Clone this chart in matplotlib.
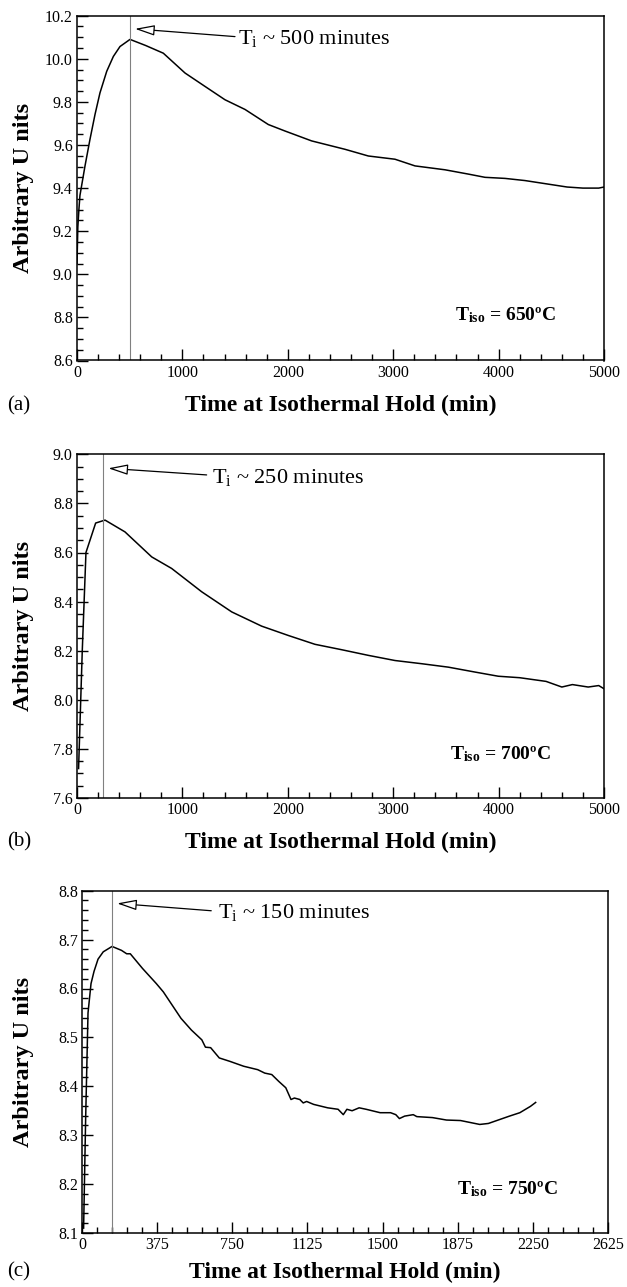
import matplotlib
matplotlib.use("Agg")
import matplotlib.pyplot as plt
from matplotlib.ticker import MultipleLocator, FormatStrFormatter

plt.rcParams['font.family'] = ['Liberation Serif', 'DejaVu Serif']
plt.rcParams['mathtext.fontset'] = 'custom'
plt.rcParams['mathtext.rm'] = 'Liberation Serif'
plt.rcParams['mathtext.bf'] = 'Liberation Serif:bold'
plt.rcParams['mathtext.it'] = 'Liberation Serif:italic'

# ---------------- data ----------------
t_a = [0, 8, 18, 28, 76, 123, 171, 218, 282, 345, 408, 503, 650, 819, 1025, 1214, 1404,
       1594, 1815, 1973, 2226, 2543, 2764, 3017, 3207, 3491, 3713, 3871, 4061,
       4250, 4450, 4650, 4800, 4950, 5000]
v_a = [9.05, 9.22, 9.30, 9.366, 9.503, 9.626, 9.742, 9.842, 9.942, 10.011, 10.057,
       10.09, 10.062, 10.026, 9.934, 9.872, 9.81, 9.765, 9.695, 9.665, 9.619, 9.58,
       9.549, 9.534, 9.503, 9.485, 9.465, 9.45, 9.445, 9.435, 9.42, 9.405, 9.40,
       9.40, 9.405]

t_b = [15, 50, 85, 177, 266, 455, 709, 898, 1183, 1468, 1752, 2005, 2258, 2511,
       2764, 3017, 3270, 3523, 3776, 3997, 4200, 4450, 4600, 4700, 4850, 4950, 5000]
v_b = [7.72, 8.20, 8.60, 8.72, 8.732, 8.684, 8.582, 8.535, 8.44, 8.358, 8.30, 8.262,
       8.226, 8.204, 8.181, 8.16, 8.147, 8.133, 8.113, 8.096, 8.09, 8.075, 8.052,
       8.062, 8.052, 8.058, 8.045]

t_c = [8, 18, 30, 45, 60, 80, 106, 150, 197, 223, 241, 302, 371, 406, 494, 546, 598,
       616, 642, 685, 738, 807, 877, 912, 947, 982, 1017, 1043, 1060, 1087, 1104,
       1121, 1156, 1226, 1278, 1304, 1322, 1348, 1383, 1418, 1488, 1540, 1566, 1584,
       1610, 1653, 1671, 1749, 1819, 1889, 1985, 2028, 2133, 2185, 2238, 2264]
v_c = [8.11, 8.33, 8.55, 8.61, 8.635, 8.66, 8.675, 8.686, 8.678, 8.671, 8.671, 8.641,
       8.610, 8.593, 8.539, 8.515, 8.495, 8.480, 8.479, 8.458, 8.451, 8.441, 8.434,
       8.427, 8.424, 8.410, 8.397, 8.373, 8.376, 8.373, 8.366, 8.369, 8.363, 8.356,
       8.353, 8.342, 8.353, 8.350, 8.356, 8.353, 8.346, 8.346, 8.342, 8.334, 8.339,
       8.342, 8.338, 8.336, 8.331, 8.330, 8.322, 8.324, 8.339, 8.346, 8.359, 8.367]

panel_labels = ['(a)', '(b)', '(c)']
ti_values = [500, 250, 150]
ti_texts = [r'T$_{\mathrm{i}}$ ~ 500 minutes', r'T$_{\mathrm{i}}$ ~ 250 minutes',
            r'T$_{\mathrm{i}}$ ~ 150 minutes']
tiso_texts = [r'$\mathbf{T_{iso}}$ = 650ºC', r'$\mathbf{T_{iso}}$ = 700ºC',
              r'$\mathbf{T_{iso}}$ = 750ºC']
xlabel = 'Time at Isothermal Hold (min)'
ylabel = 'Arbitrary U nits'

W, H = 627, 1287
fig = plt.figure(figsize=(W / 100, H / 100), dpi=100)

boxes = [(77, 604, 15.7, 360.5), (77, 604, 454.3, 798), (82, 608, 890.7, 1233)]
label_offsets = [45, 44, 39]
axes = [fig.add_axes([l / W, 1 - b / H, (r - l) / W, (b - t) / H]) for l, r, t, b in boxes]

specs = [
    dict(t=t_a, v=v_a, xlim=(0, 5000), ylim=(8.6, 10.2), xmaj=1000, xmin=200,
         ymaj=0.2, ymin=0.05, head=(550, 10.139), tail=(1499, 10.103), txt=(1528, 10.092),
         tiso=(4061, 8.81)),
    dict(t=t_b, v=v_b, xlim=(0, 5000), ylim=(7.6, 9.0), xmaj=1000, xmin=200,
         ymaj=0.2, ymin=0.05, head=(297, 8.943), tail=(1230, 8.916), txt=(1278, 8.907),
         tiso=(4015, 7.78)),
    dict(t=t_c, v=v_c, xlim=(0, 2625), ylim=(8.1, 8.8), xmaj=375, xmin=75,
         ymaj=0.1, ymin=0.02, head=(175, 8.774), tail=(645, 8.759), txt=(678, 8.755),
         tiso=(2124, 8.19)),
]

for i, (ax, s, box) in enumerate(zip(axes, specs, boxes)):
    l, r, t, b = box
    wpx, hpx = r - l, b - t
    ax.plot(s['t'], s['v'], color='black', lw=1.1)
    ax.axvline(ti_values[i], color='#808080', lw=0.8)
    ax.set_xlim(*s['xlim'])
    ax.set_ylim(*s['ylim'])
    ax.xaxis.set_major_locator(MultipleLocator(s['xmaj']))
    ax.xaxis.set_minor_locator(MultipleLocator(s['xmin']))
    ax.yaxis.set_major_locator(MultipleLocator(s['ymaj']))
    ax.yaxis.set_minor_locator(MultipleLocator(s['ymin']))
    ax.yaxis.set_major_formatter(FormatStrFormatter('%.1f'))
    ax.xaxis.set_major_formatter(FormatStrFormatter('%d'))
    ax.tick_params(which='both', direction='in', top=False, right=False,
                   labelsize=11.5, width=1.0, color='black')
    ax.tick_params(which='major', length=8, pad=3)
    ax.tick_params(which='minor', length=4.5)
    for sp in ax.spines.values():
        sp.set_linewidth(1.1)
        sp.set_color('black')
    ax.set_xlabel(xlabel, fontsize=17, fontweight='bold', va='center')
    ax.xaxis.set_label_coords(0.5, -label_offsets[i] / hpx)
    ax.set_ylabel(ylabel, fontsize=17.5, fontweight='bold', va='center')
    ax.yaxis.set_label_coords(-(l - 24) / wpx, 0.5)
    ax.annotate('', xy=s['head'], xytext=s['tail'],
                arrowprops=dict(arrowstyle='-|>,head_length=1.2,head_width=0.32',
                                fc='white', ec='black', lw=0.9, shrinkA=0, shrinkB=0))
    ax.text(s['txt'][0], s['txt'][1], ti_texts[i], fontsize=16, ha='left', va='center')
    ax.text(s['tiso'][0], s['tiso'][1], tiso_texts[i], fontsize=14, fontweight='bold',
            ha='center', va='center')
    fig.text(19 / W, 1 - (b + label_offsets[i]) / H, panel_labels[i], fontsize=15,
             ha='center', va='center')

fig.savefig('out.png', dpi=100)
